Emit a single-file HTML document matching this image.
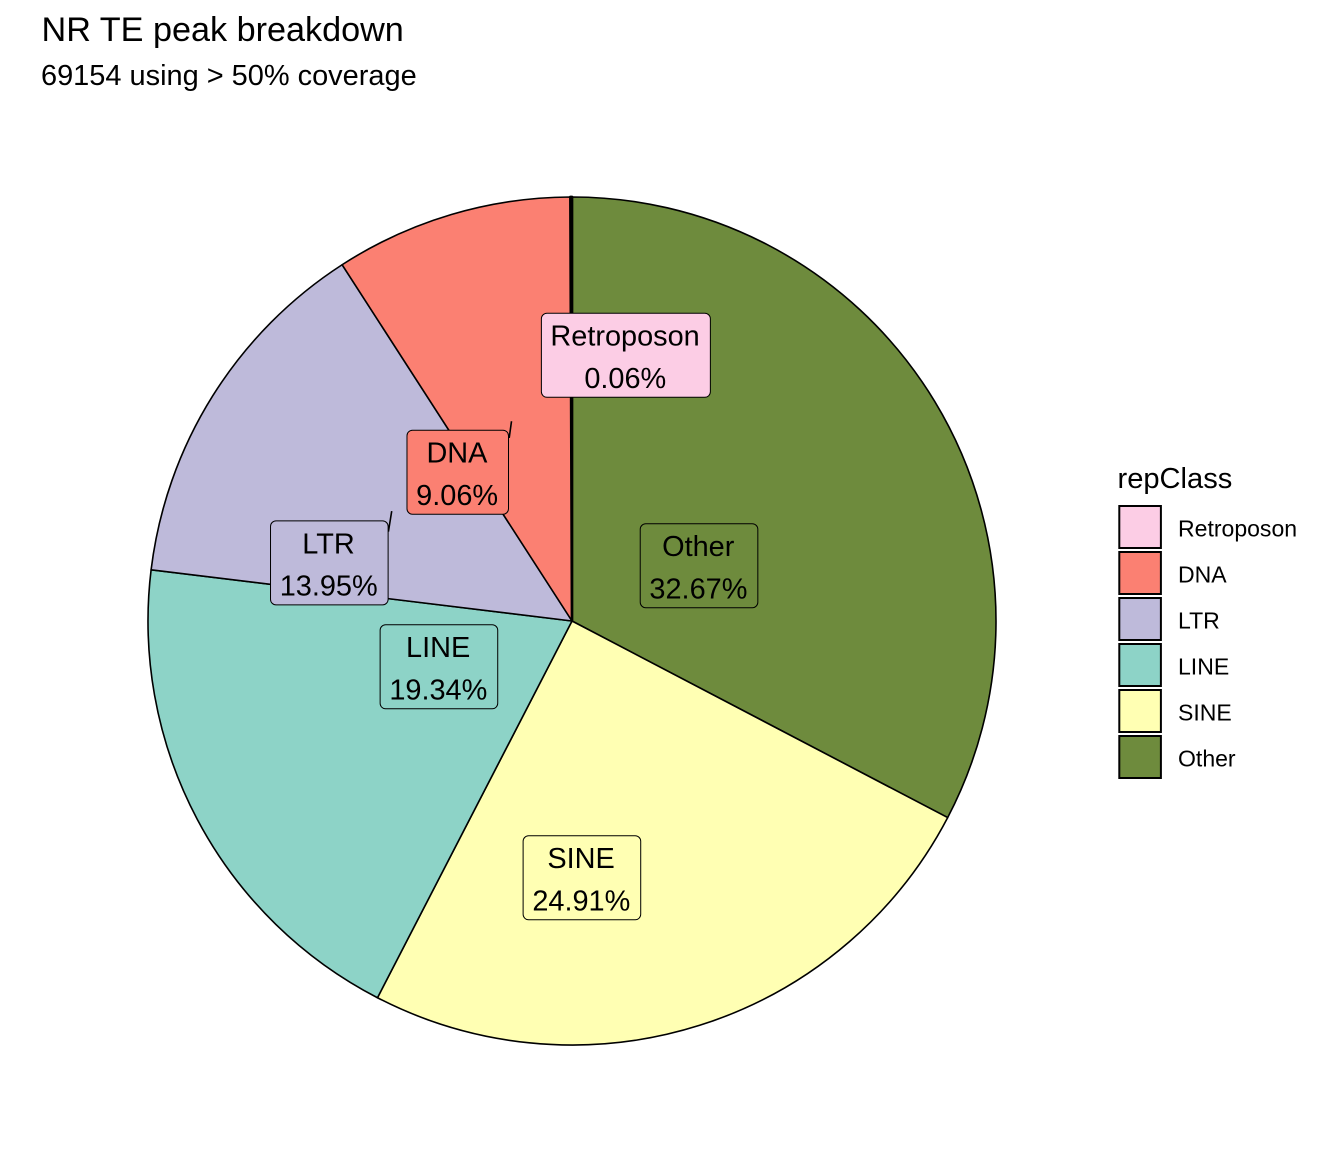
<!DOCTYPE html>
<html lang="en">
<head>
<meta charset="utf-8">
<title>NR TE peak breakdown</title>
<style>
  html, body { margin: 0; padding: 0; background: #fff; }
  svg { display: block; font-family: "Liberation Sans", Arial, sans-serif; }
</style>
</head>
<body>
<svg id="chart" xmlns="http://www.w3.org/2000/svg" width="1344" height="1152" viewBox="0 0 1344 1152">
  <rect x="0" y="0" width="1344" height="1152" fill="#ffffff"/>
  <text x="41.5" y="41" font-size="34.2" fill="#000">NR TE peak breakdown</text>
  <text x="41" y="85" font-size="28.95" fill="#000">69154 using &gt; 50% coverage</text>
  <g id="slices"></g>
  <g id="labels"></g>
  <g id="legend">
    <text x="1117.5" y="488" font-size="29.1" fill="#000">repClass</text>
  </g>
</svg>
<script>
const categories = ["Retroposon", "DNA", "LTR", "LINE", "SINE", "Other"];
const percentages = [0.06, 9.06, 13.95, 19.34, 24.91, 32.67];
const sliceColors = ["#FCCDE5", "#FB8072", "#BEBADA", "#8DD3C7", "#FFFFB3", "#6E8B3D"];

const NS = "http://www.w3.org/2000/svg";
const CX = 572, CY = 621, R = 424;
const ANCHOR_RADIUS = 170;
const labelNudge = {
  Retroposon: [54.2, -95.7],
  DNA: [-65.9, 14.2],
  LTR: [-98.6, 32.1],
  LINE: [17.2, -33.7],
  SINE: [-41.3, 94.7],
  Other: [-18.4, 32.8]
};
const connector = {
  DNA: [0.7, 7.7, 3, -9],
  LTR: [0.3, 10.7, 3.6, -9.7]
};

const total = percentages.reduce((a, b) => a + b, 0);
const angleScale = v => (v / total) * 2 * Math.PI;
const polarX = (a, r) => CX + r * Math.sin(a);
const polarY = (a, r) => CY - r * Math.cos(a);

function make(tag, attrs, parent) {
  const el = document.createElementNS(NS, tag);
  for (const k in attrs) el.setAttribute(k, attrs[k]);
  parent.appendChild(el);
  return el;
}

const slicesG = document.getElementById("slices");
const labelsG = document.getElementById("labels");
const legendG = document.getElementById("legend");

/* Slices run clockwise from 12 o'clock, starting with the last category. */
let cumulative = 0;
const midAngles = {};
for (let i = categories.length - 1; i >= 0; i--) {
  const start = angleScale(cumulative);
  cumulative += percentages[i];
  const end = angleScale(cumulative);
  midAngles[categories[i]] = (start + end) / 2;
  const large = end - start > Math.PI ? 1 : 0;
  const d = "M" + CX + " " + CY +
    "L" + polarX(start, R).toFixed(2) + " " + polarY(start, R).toFixed(2) +
    "A" + R + " " + R + " 0 " + large + " 1 " + polarX(end, R).toFixed(2) + " " + polarY(end, R).toFixed(2) + "Z";
  /* A sliver's two outlines merge into one heavy line, as in the reference. */
  const strokeW = (end - start) < 0.02 ? 2.7 : 1.6;
  const slice = make("path", { d: d, fill: sliceColors[i], stroke: "#000", "stroke-width": strokeW, "stroke-linejoin": "round" }, slicesG);
  
  
}

/* Labels: connectors are drawn first, then box and text, in legend order. */
const BOX_H = 84, FONT = 28.9, PAD = 9.8;
const order = ["Other", "SINE", "LINE", "LTR", "DNA", "Retroposon"];
order.forEach(name => {
  const i = categories.indexOf(name);
  const a = midAngles[name];
  const cx = polarX(a, ANCHOR_RADIUS) + labelNudge[name][0];
  const cy = polarY(a, ANCHOR_RADIUS) + labelNudge[name][1];

  const group = make("g", {}, labelsG);
  
  

  const line = make("line", { stroke: "#000", "stroke-width": 1.6 }, group);
  
  

  const box = make("rect", { fill: sliceColors[i], stroke: "#000", "stroke-width": 1, rx: 5.5, ry: 5.5 }, group);
  
  

  const t1 = make("text", { x: cx - 0.8, y: cy - 9.6, "font-size": FONT, "text-anchor": "middle", fill: "#000" }, group);
  t1.textContent = name;
  
  

  const t2 = make("text", { x: cx - 0.6, y: cy + 32.8, "font-size": FONT, "text-anchor": "middle", fill: "#000" }, group);
  t2.textContent = percentages[i].toFixed(2) + "%";
  
  

  const w = Math.max(t1.getComputedTextLength(), t2.getComputedTextLength()) + PAD * 2;
  box.setAttribute("x", cx - w / 2);
  box.setAttribute("y", cy - BOX_H / 2);
  box.setAttribute("width", w);
  box.setAttribute("height", BOX_H);

  const c = connector[name];
  if (c) {
    const right = cx + w / 2, top = cy - BOX_H / 2;
    line.setAttribute("x1", right + c[0]);
    line.setAttribute("y1", top + c[1]);
    line.setAttribute("x2", right + c[2]);
    line.setAttribute("y2", top + c[3]);
  } else {
    line.remove();
  }
});

/* Legend */
categories.forEach((name, i) => {
  const y = 506 + i * 46;
  const key = make("rect", { x: 1119.3, y: y, width: 41.6, height: 42, fill: sliceColors[i], stroke: "#000", "stroke-width": 2 }, legendG);
  
  
  const text = make("text", { x: 1178, y: y + 30.5, "font-size": 23.04, fill: "#000" }, legendG);
  text.textContent = name;
  
  
});
</script>
</body>
</html>
